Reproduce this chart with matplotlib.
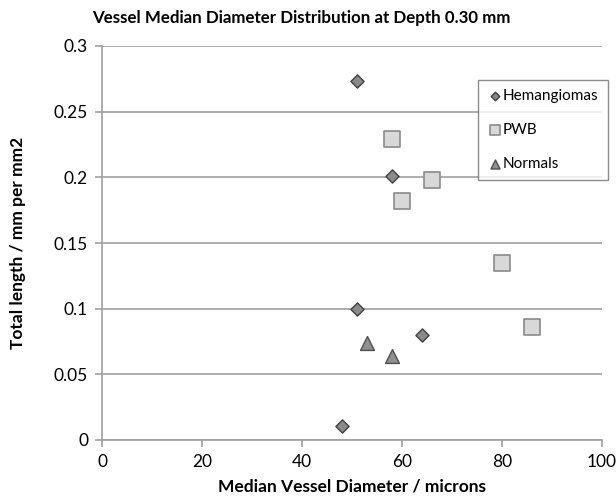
import matplotlib
matplotlib.use("Agg")
import matplotlib.pyplot as plt

hem_x = [51, 58, 51, 64, 48]
hem_y = [0.273, 0.201, 0.100, 0.080, 0.011]
pwb_x = [58, 66, 60, 80, 86]
pwb_y = [0.229, 0.198, 0.182, 0.135, 0.086]
norm_x = [53, 58]
norm_y = [0.074, 0.064]

plt.rcParams['font.family'] = ['Lato', 'DejaVu Sans']
fig = plt.figure(figsize=(6.16, 5.0), dpi=100)
ax = fig.add_axes([0.1656, 0.12, 0.8114, 0.788])
ax.set_xlim(0, 100)
ax.set_ylim(0, 0.3)
ax.set_xticks([0, 20, 40, 60, 80, 100])
ax.set_yticks([0, 0.05, 0.1, 0.15, 0.2, 0.25, 0.3])
ax.set_yticklabels(['0', '0.05', '0.1', '0.15', '0.2', '0.25', '0.3'])
ax.yaxis.grid(True, color='#a0a0a0', lw=1.2)
ax.set_axisbelow(True)
for s in ['top', 'right']:
    ax.spines[s].set_visible(False)
for s in ['left', 'bottom']:
    ax.spines[s].set_color('#a0a0a0')
    ax.spines[s].set_linewidth(1.2)
ax.tick_params(axis='both', length=5, color='#a0a0a0', width=1.2, direction='out', labelsize=12.5, pad=5)

ax.scatter(hem_x, hem_y, marker='D', s=45, c='#8a8a8a', edgecolors='#404040', linewidths=1, label='Hemangiomas', zorder=3)
ax.scatter(pwb_x, pwb_y, marker='s', s=120, c='#d8d8d8', edgecolors='#8a8a8a', linewidths=1.2, label='PWB', zorder=3)
ax.scatter(norm_x, norm_y, marker='^', s=100, c='#909090', edgecolors='#505050', linewidths=1, label='Normals', zorder=3)

fig.text(92/616, 1 - 18/500, 'Vessel Median Diameter Distribution at Depth 0.30 mm', fontsize=12.2, fontweight='bold', va='center', ha='left')
ax.set_xlabel('Median Vessel Diameter / microns', fontsize=12.5, fontweight='bold', labelpad=6)
ax.set_ylabel('Total length / mm per mm2', fontsize=12.5, fontweight='bold', labelpad=20)

leg = ax.legend(loc='upper left', bbox_to_anchor=(0.752, 0.9137), borderaxespad=0, frameon=True, fancybox=False,
                edgecolor='#707070', fontsize=11, labelspacing=1.3, handletextpad=0.05,
                handlelength=1.0, markerscale=0.65, borderpad=0.6)
leg.get_frame().set_linewidth(1.0)

fig.savefig('out.png', dpi=100)
